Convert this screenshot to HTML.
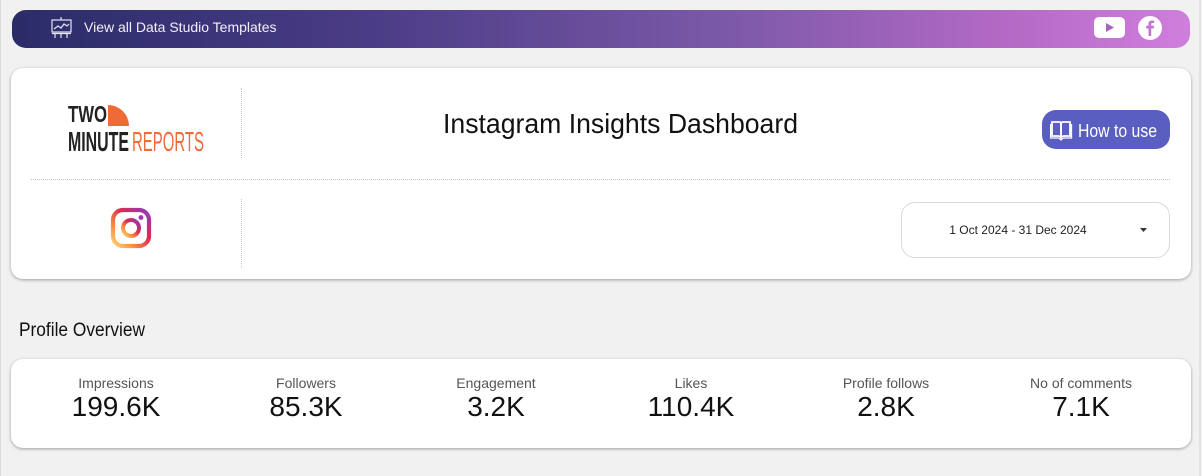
<!DOCTYPE html>
<html><head><meta charset="utf-8">
<style>
*{margin:0;padding:0;box-sizing:border-box}
html,body{width:1202px;height:476px;overflow:hidden;background:#f1f1f1;font-family:"Liberation Sans",sans-serif;position:relative}
.abs{position:absolute}
.edgeL{left:0;top:0;width:1px;height:476px;background:#dcdcdc}
.edgeR{left:1199px;top:0;width:2px;height:476px;background:#e2e2e2}
.banner{left:12px;top:10px;width:1178px;height:38px;border-radius:14px;background:linear-gradient(90deg,#2a2c68 0%,#4a3c86 30%,#7a58a8 60%,#b56ac6 85%,#cf7edc 100%)}
.card{background:#fff;border-radius:12px;box-shadow:0 1px 3px rgba(0,0,0,0.35)}
.vd{width:0;border-left:1px dotted #c8c8c8}
.hd{height:0;border-top:1px dotted #bdbdbd}
.lbl{position:absolute;top:375px;font-size:14px;color:#555;text-align:center;width:200px;white-space:nowrap}
.val{position:absolute;top:391px;font-size:28px;color:#111;text-align:center;width:200px;white-space:nowrap}
</style></head><body>
<div class="abs edgeL"></div>
<div class="abs edgeR"></div>

<div class="abs banner"></div>
<svg class="abs" style="left:50px;top:16px" width="24" height="24" viewBox="0 0 24 24">
 <line x1="11" y1="1" x2="11" y2="4" stroke="#e8e6f2" stroke-width="1.2"/>
 <rect x="2" y="4" width="19" height="12" fill="none" stroke="#e8e6f2" stroke-width="1.2"/>
 <polyline points="4,13 8,10 11,12 14,8 17,10 19,8" fill="none" stroke="#e8e6f2" stroke-width="1.2"/>
 <line x1="2" y1="17.5" x2="21" y2="17.5" stroke="#e8e6f2" stroke-width="1.2"/>
 <line x1="5" y1="18" x2="5" y2="22" stroke="#e8e6f2" stroke-width="1.2"/>
 <line x1="11" y1="18" x2="11" y2="22" stroke="#e8e6f2" stroke-width="1.2"/>
 <line x1="17" y1="18" x2="17" y2="22" stroke="#e8e6f2" stroke-width="1.2"/>
</svg>
<div class="abs" style="left:84px;top:19px;font-size:14px;color:#f2f0f8;white-space:nowrap">View all Data Studio Templates</div>
<svg class="abs" style="left:1093px;top:16px" width="34" height="24" viewBox="0 0 34 24">
 <rect x="1" y="1" width="31" height="21" rx="5" fill="#fff"/>
 <polygon points="13,7 13,16 21,11.5" fill="#a863c0"/>
</svg>
<svg class="abs" style="left:1137px;top:15px" width="26" height="26" viewBox="0 0 26 26">
 <circle cx="13" cy="13" r="12" fill="#fff"/>
 <path d="M14.2 21 V13.5 H16.7 L17 10.8 H14.2 V9.3 C14.2 8.5 14.5 8 15.6 8 H17.1 V5.6 C16.8 5.6 16 5.5 15 5.5 C12.9 5.5 11.5 6.8 11.5 9 V10.8 H9.2 V13.5 H11.5 V21 Z" fill="#c373d4"/>
</svg>

<!-- header card -->
<div class="abs card" style="left:11px;top:68px;width:1180px;height:211px"></div>
<div class="abs vd" style="left:241px;top:88px;height:70px"></div>
<div class="abs vd" style="left:241px;top:199px;height:69px"></div>
<div class="abs hd" style="left:31px;top:179px;width:1139px"></div>

<svg class="abs" style="left:66px;top:102px" width="142" height="52" viewBox="0 0 142 52">
 <text x="2" y="20" font-family="Liberation Sans" font-weight="bold" font-size="23" fill="#222" textLength="39" lengthAdjust="spacingAndGlyphs">TWO</text>
 <path d="M42 3 A21 21 0 0 1 63 24 L42 24 Z" fill="#ef6a36"/>
 <text x="2" y="49" font-family="Liberation Sans" font-weight="bold" font-size="28" fill="#222" textLength="61" lengthAdjust="spacingAndGlyphs">MINUTE</text>
 <text x="66" y="49" font-family="Liberation Sans" font-size="28" fill="#ef6a36" textLength="72" lengthAdjust="spacingAndGlyphs">REPORTS</text>
</svg>

<svg class="abs" style="left:440px;top:106px" width="362" height="40" viewBox="0 0 362 40">
 <text x="3" y="27" font-family="Liberation Sans" font-size="28" fill="#111" textLength="355" lengthAdjust="spacingAndGlyphs">Instagram Insights Dashboard</text>
</svg>

<div class="abs" style="left:1042px;top:110px;width:128px;height:39px;border-radius:14px;background:#5a5ec0"></div>
<svg class="abs" style="left:1050px;top:119px" width="24" height="22" viewBox="0 0 24 22">
 <path d="M2 3 H9 C10.5 3 11 4 11 5 V18 C10 17 9 17 8 17 H2 Z" fill="none" stroke="#fff" stroke-width="1.8"/>
 <path d="M20 3 H13 C11.5 3 11 4 11 5 V18 C12 17 13 17 14 17 H20 Z" fill="none" stroke="#fff" stroke-width="1.8"/>
 <path d="M0.5 5 V19 H9 L11 21 L13 19 H21.5 V5" fill="none" stroke="#fff" stroke-width="1.3"/>
</svg>
<svg class="abs" style="left:1076px;top:118px" width="86" height="26" viewBox="0 0 86 26">
 <text x="2" y="19" font-family="Liberation Sans" font-size="18" fill="#fff" textLength="79" lengthAdjust="spacingAndGlyphs">How to use</text>
</svg>

<div class="abs" style="left:901px;top:202px;width:269px;height:56px;border:1px solid #d9d9d9;border-radius:14px;background:#fff"></div>
<div class="abs" style="left:948px;top:223px;font-size:12px;color:#222;white-space:nowrap;width:140px;text-align:center">1 Oct 2024 - 31 Dec 2024</div>
<svg class="abs" style="left:1140px;top:228px" width="8" height="5" viewBox="0 0 8 5"><polygon points="0,0 7,0 3.5,4" fill="#333"/></svg>

<svg class="abs" style="left:110px;top:207px" width="42" height="42" viewBox="0 0 42 42">
 <defs>
  <linearGradient id="ig" x1="0" y1="1" x2="1" y2="0">
   <stop offset="0" stop-color="#fdd66d"/>
   <stop offset="0.3" stop-color="#f6893e"/>
   <stop offset="0.6" stop-color="#e02a4f"/>
   <stop offset="1" stop-color="#8a3bc3"/>
  </linearGradient>
 </defs>
 <rect x="3" y="3" width="36" height="36" rx="10" fill="none" stroke="url(#ig)" stroke-width="4.2"/>
 <circle cx="21" cy="21" r="8" fill="none" stroke="url(#ig)" stroke-width="4"/>
 <circle cx="31" cy="10.5" r="2.4" fill="#a037b0"/>
</svg>

<!-- profile overview -->
<svg class="abs" style="left:16px;top:316px" width="140" height="26" viewBox="0 0 140 26">
 <text x="3" y="20" font-family="Liberation Sans" font-size="19" fill="#111" textLength="126" lengthAdjust="spacingAndGlyphs">Profile Overview</text>
</svg>

<div class="abs card" style="left:11px;top:359px;width:1180px;height:89px"></div>
<div class="lbl" style="left:16px">Impressions</div>
<div class="val" style="left:16px">199.6K</div>
<div class="lbl" style="left:206px">Followers</div>
<div class="val" style="left:206px">85.3K</div>
<div class="lbl" style="left:396px">Engagement</div>
<div class="val" style="left:396px">3.2K</div>
<div class="lbl" style="left:591px">Likes</div>
<div class="val" style="left:591px">110.4K</div>
<div class="lbl" style="left:786px">Profile follows</div>
<div class="val" style="left:786px">2.8K</div>
<div class="lbl" style="left:981px">No of comments</div>
<div class="val" style="left:981px">7.1K</div>
</body></html>
